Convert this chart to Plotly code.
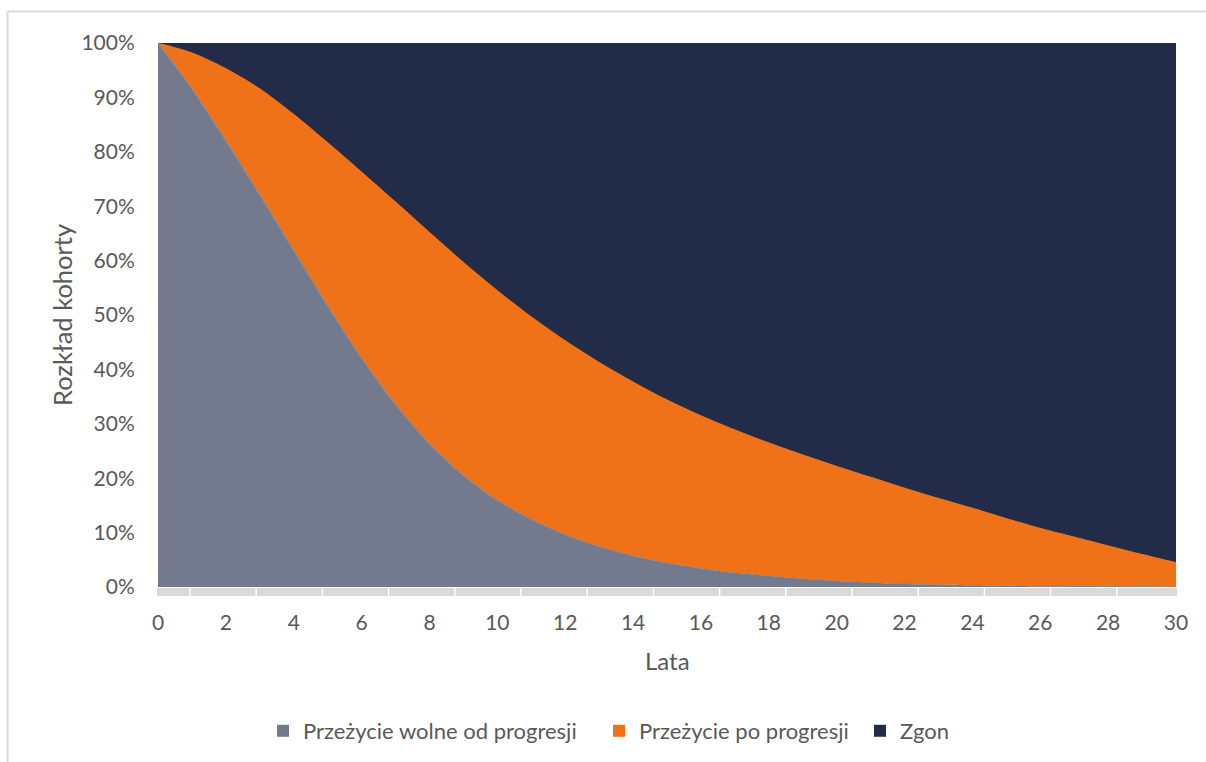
import plotly.graph_objects as go

# Years since start of the cohort
lata = list(range(0, 31))

# Share of cohort alive without progression (%)
pfs = [100, 91.5, 82, 72, 61.8, 51.6, 42, 33.5, 26.3, 20.5, 15.9, 12.4, 9.6, 7.4,
       5.7, 4.4, 3.4, 2.6, 2.0, 1.5, 1.1, 0.8, 0.57, 0.4, 0.3, 0.22, 0.16, 0.12,
       0.09, 0.07, 0.05]

# Share of cohort alive in total (%)
os_total = [100, 98.2, 95.3, 91.6, 86.9, 81.7, 76.3, 70.8, 65.2, 59.7, 54.5, 49.7,
            45.3, 41.3, 37.7, 34.4, 31.5, 28.9, 26.5, 24.3, 22.2, 20.2, 18.2, 16.3,
            14.5, 12.6, 10.8, 9.2, 7.6, 6.0, 4.5]

series_names = ["Przeżycie wolne od progresji", "Przeżycie po progresji", "Zgon"]
series_colors = ["#737a8d", "#f07218", "#222b48"]
y_ticks = [i / 10 for i in range(0, 11)]
x_ticks = list(range(0, 31, 2))

pps = [o - p for o, p in zip(os_total, pfs)]
zgon = [100 - o for o in os_total]
stacks = [pfs, pps, zgon]

W, H = 1206, 762
ML, MR, MT, MB = 158, 30, 43, 175
PW, PH = W - ML - MR, H - MT - MB


def px_x(px):
    return (px - ML) / PW


def px_y(py):
    return (H - MB - py) / PH


# legend entry left edges (px), one legend box per entry
legend_left = [263, 599, 860]
legend_ids = ["legend", "legend2", "legend3"]

fig = go.Figure()
for name, vals, col, lid in zip(series_names, stacks, series_colors, legend_ids):
    fig.add_trace(go.Scatter(
        x=lata, y=[v / 100 for v in vals], name=name, stackgroup="one",
        mode="lines", line=dict(width=0.6, color=col, shape="spline", smoothing=0.8),
        fillcolor=col, showlegend=False, hoverinfo="skip"))
    # square legend swatch
    fig.add_trace(go.Scatter(
        x=[None], y=[None], name=name, mode="markers", legend=lid,
        marker=dict(symbol="square", size=12, color=col)))

shapes = []
# light chart frame
shapes.append(dict(type="line", xref="paper", yref="paper",
                   x0=px_x(7.5), x1=px_x(W + 5), y0=px_y(11.5), y1=px_y(11.5),
                   line=dict(color="#d9d9d9", width=2)))
shapes.append(dict(type="line", xref="paper", yref="paper",
                   x0=px_x(7.5), x1=px_x(7.5), y0=px_y(11.5), y1=px_y(H + 5),
                   line=dict(color="#d9d9d9", width=2)))
# horizontal axis band
shapes.append(dict(type="rect", xref="paper", yref="paper",
                   x0=px_x(157), x1=px_x(1177), y0=px_y(596), y1=px_y(588),
                   line=dict(width=0), fillcolor="#d9d9d9", layer="above"))
# tick separators on the axis band
sep0, sep_step = 190.0, 66.2
k = 0
while sep0 + k * sep_step < 1177:
    xp = sep0 + k * sep_step
    shapes.append(dict(type="line", xref="paper", yref="paper",
                       x0=px_x(xp), x1=px_x(xp), y0=px_y(596), y1=px_y(588),
                       line=dict(color="white", width=1.5), layer="above"))
    k += 1

font_fam = "Lato, 'Open Sans', sans-serif"
legend_style = dict(orientation="h", xanchor="left", y=px_y(731), yanchor="middle",
                    font=dict(size=22, color="#595959"), itemwidth=30,
                    bgcolor="rgba(0,0,0,0)", borderwidth=0)
layout_legends = {}
for lid, left in zip(legend_ids, legend_left):
    layout_legends[lid] = dict(legend_style, x=px_x(left))

fig.update_layout(
    width=W, height=H,
    margin=dict(l=ML, r=MR, t=MT, b=MB, autoexpand=False),
    paper_bgcolor="white", plot_bgcolor="white",
    font=dict(family=font_fam, size=21, color="#595959"),
    shapes=shapes,
    showlegend=True,
    annotations=[
        dict(text="Lata", xref="paper", yref="paper", x=px_x(667), y=px_y(660),
             showarrow=False, font=dict(size=24, color="#595959"),
             xanchor="center", yanchor="middle"),
        dict(text="Rozkład kohorty", xref="paper", yref="paper", x=px_x(62),
             y=px_y(315), showarrow=False, textangle=-90,
             font=dict(size=25.5, color="#595959"),
             xanchor="center", yanchor="middle"),
    ],
    **layout_legends,
)
fig.update_xaxes(range=[0, 30], tickvals=x_ticks, showgrid=False, zeroline=False,
                 showline=False, ticks="outside", ticklen=17,
                 tickcolor="rgba(0,0,0,0)", fixedrange=True)
fig.update_yaxes(range=[0, 1], tickvals=y_ticks, tickformat=".0%", showgrid=False,
                 zeroline=False, showline=False, ticks="outside", ticklen=18,
                 tickcolor="rgba(0,0,0,0)", fixedrange=True)

fig.write_html("out.html")
